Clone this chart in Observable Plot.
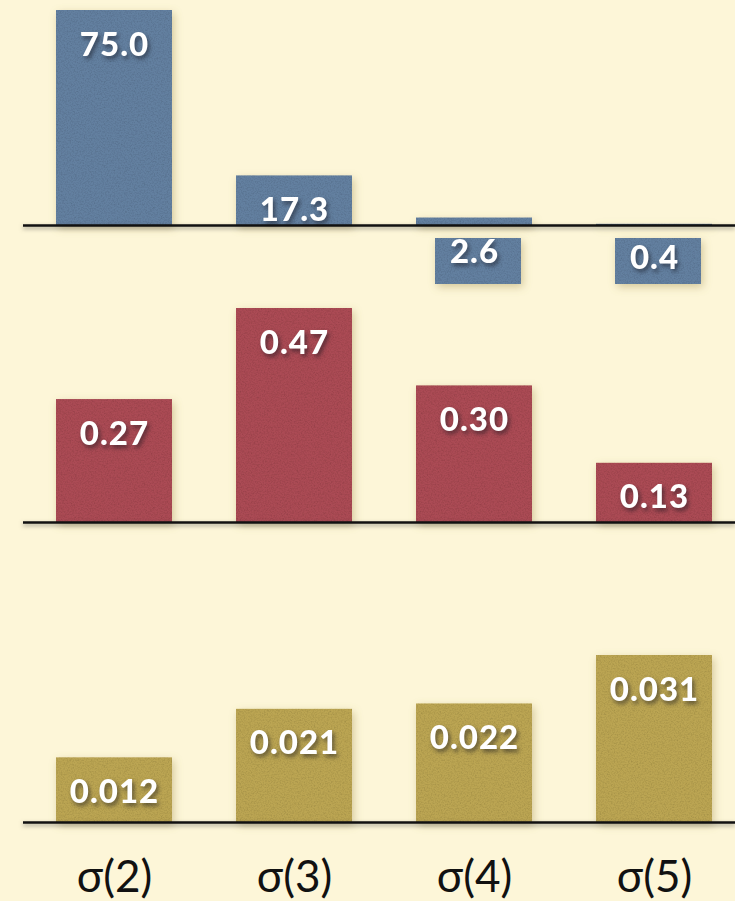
<!DOCTYPE html>
<html>
<head>
<meta charset="utf-8">
<script src="https://cdn.jsdelivr.net/npm/d3@7"></script>
<script src="https://cdn.jsdelivr.net/npm/@observablehq/plot@0.6"></script>
<style>
  html, body { margin: 0; padding: 0; background: #fdf6d8; }
  #chart { width: 735px; background: #fdf6d8; }
  #chart svg { display: block; overflow: visible; }
  #chart g[aria-label="bar"] {
    filter: url(#paper) drop-shadow(2px 3px 4px rgba(90, 70, 20, 0.45));
  }
  #chart g[aria-label="text"] {
    filter: drop-shadow(2px 3px 2px rgba(20, 20, 30, 0.55));
  }
  #chart g[aria-label="rule"] {
    filter: drop-shadow(0px 2px 2px rgba(60, 60, 60, 0.5));
  }
</style>
</head>
<body>
<svg width="0" height="0" style="position:absolute">
  <defs>
    <filter id="paper" x="-5%" y="-5%" width="110%" height="110%">
      <feTurbulence type="fractalNoise" baseFrequency="0.7" numOctaves="3" seed="7" result="noise"/>
      <feColorMatrix in="noise" type="matrix"
        values="0 0 0 0 0  0 0 0 0 0  0 0 0 0 0  0.5 0 0 0 -0.2" result="speck"/>
      <feComposite in="speck" in2="SourceGraphic" operator="in" result="tex"/>
      <feMerge><feMergeNode in="SourceGraphic"/><feMergeNode in="tex"/></feMerge>
    </filter>
  </defs>
</svg>
<div id="chart"></div>
<script>
// ---- data ----
const categories = ["σ(2)", "σ(3)", "σ(4)", "σ(5)"];
const blueValues = [75.0, 17.3, 2.6, 0.4];
const blueLabels = ["75.0", "17.3", "2.6", "0.4"];
const redValues = [0.27, 0.47, 0.30, 0.13];
const redLabels = ["0.27", "0.47", "0.30", "0.13"];
const goldValues = [0.012, 0.021, 0.022, 0.031];
const goldLabels = ["0.012", "0.021", "0.022", "0.031"];

const colors = { blue: "#6480a0", red: "#ab4c55", gold: "#bba552" };
const font = "Lato, 'Open Sans', 'DejaVu Sans', sans-serif";

function panel({values, labels, color, height, marginTop, marginBottom, yMax, showAxis}) {
  const data = categories.map((c, i) => ({cat: c, value: values[i], label: labels[i]}));
  const pxPerUnit = (height - marginTop - marginBottom) / yMax;
  const small = data.filter(d => d.value * pxPerUnit < 30);
  return Plot.plot({
    width: 735,
    height,
    marginTop,
    marginBottom,
    marginLeft: 23,
    marginRight: 0,
    style: {background: "transparent", fontFamily: font, fontSize: "44px", color: "#111", overflow: "visible"},
    x: {
      domain: categories,
      paddingInner: 0.357,
      paddingOuter: 0.1526,
      align: 0.59,
      axis: showAxis ? "bottom" : null,
      tickSize: 0,
      tickPadding: 38,
      label: null
    },
    y: {domain: [0, yMax], axis: null},
    marks: [
      Plot.barY(data, {x: "cat", y: "value", fill: color}),
      Plot.barY(small, {x: "cat", y1: 0, y2: 0, fill: color, insetTop: 13, insetBottom: -59,
        insetLeft: 19, insetRight: 11}),
      Plot.text(data, {x: "cat", y: "value", text: "label", lineAnchor: "bottom", dy: 45,
        fill: "white", fontWeight: 900, fontSize: 33, fontFamily: font, letterSpacing: 1}),
      Plot.ruleY([0], {stroke: "#111", strokeWidth: 2.5})
    ]
  });
}

const chart = document.getElementById("chart");
chart.append(
  panel({values: blueValues, labels: blueLabels, color: colors.blue, height: 300, marginTop: 10, marginBottom: 75, yMax: 75, showAxis: false}),
  panel({values: redValues, labels: redLabels, color: colors.red, height: 300, marginTop: 8, marginBottom: 78, yMax: 0.47, showAxis: false}),
  panel({values: goldValues, labels: goldLabels, color: colors.gold, height: 301, marginTop: 55, marginBottom: 79, yMax: 0.031, showAxis: true})
);
// letter spacing for value labels
document.querySelectorAll('#chart g[aria-label="text"] text').forEach(t => t.setAttribute("letter-spacing", "1"));
</script>
</body>
</html>
